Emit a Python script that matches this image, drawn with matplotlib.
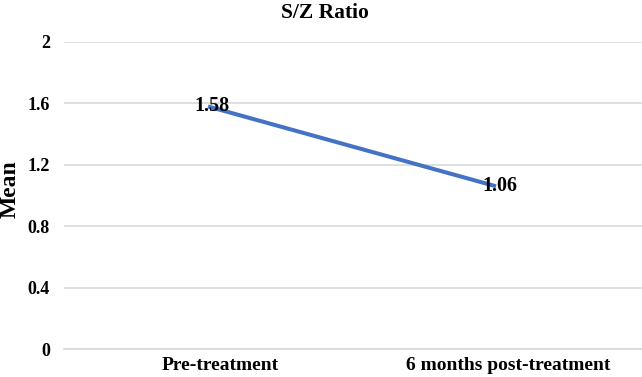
import matplotlib
matplotlib.use("Agg")
import matplotlib.pyplot as plt
from matplotlib.transforms import ScaledTranslation

categories = ["Pre-treatment", "6 months post-treatment"]
means = [1.58, 1.06]
yticks = [0, 0.4, 0.8, 1.2, 1.6, 2]
ytick_labels = ["0", "0.4", "0.8", "1.2", "1.6", "2"]

plt.rcParams['font.family'] = ['Liberation Serif', 'DejaVu Serif']
plt.rcParams['font.weight'] = 'bold'

W, H = 642, 377
fig = plt.figure(figsize=(W/100, H/100), dpi=100)
left, right, bottom, top = 64, 642, 349, 42
ax = fig.add_axes([left/W, 1 - bottom/H, (right-left)/W, (bottom-top)/H])

x = list(range(len(categories)))
ax.plot(x, means, color='#4472C4', linewidth=2.9, solid_capstyle='butt', zorder=3)
for xi, v in zip(x, means):
    ax.text(xi + 0.015, v, f"{v:.2f}", ha='center', va='center', fontsize=14.5,
            fontweight='bold', color='black', zorder=4)

ax.set_ylim(0, 2)
ax.set_xlim(-0.5, (right - 208) / 288)
ax.set_yticks(yticks)
ax.set_yticklabels(ytick_labels, fontsize=13, fontweight='bold')
ax.set_xticks(x)
ax.set_xticklabels(categories, fontsize=14, fontweight='bold')
ax.tick_params(axis='y', length=0, pad=10)
ax.tick_params(axis='x', length=0, pad=6)
off = ScaledTranslation(12/100, 0, fig.dpi_scale_trans)
for lbl in ax.get_xticklabels():
    lbl.set_transform(lbl.get_transform() + off)
ax.grid(axis='y', color='#D9D9D9', linewidth=1.2)
ax.set_axisbelow(True)
for s in ['top', 'right', 'left']:
    ax.spines[s].set_visible(False)
ax.spines['bottom'].set_color('#D9D9D9')
ax.spines['bottom'].set_linewidth(1.2)

fig.text(10/W, 1 - 189/H, "Mean", rotation=90, ha='center', va='center',
         fontsize=17, fontweight='bold')
fig.text(325/W, 1 - 13/H, "S/Z Ratio", ha='center', va='center', fontsize=15.5, fontweight='bold')

fig.savefig("out.png", dpi=100)
